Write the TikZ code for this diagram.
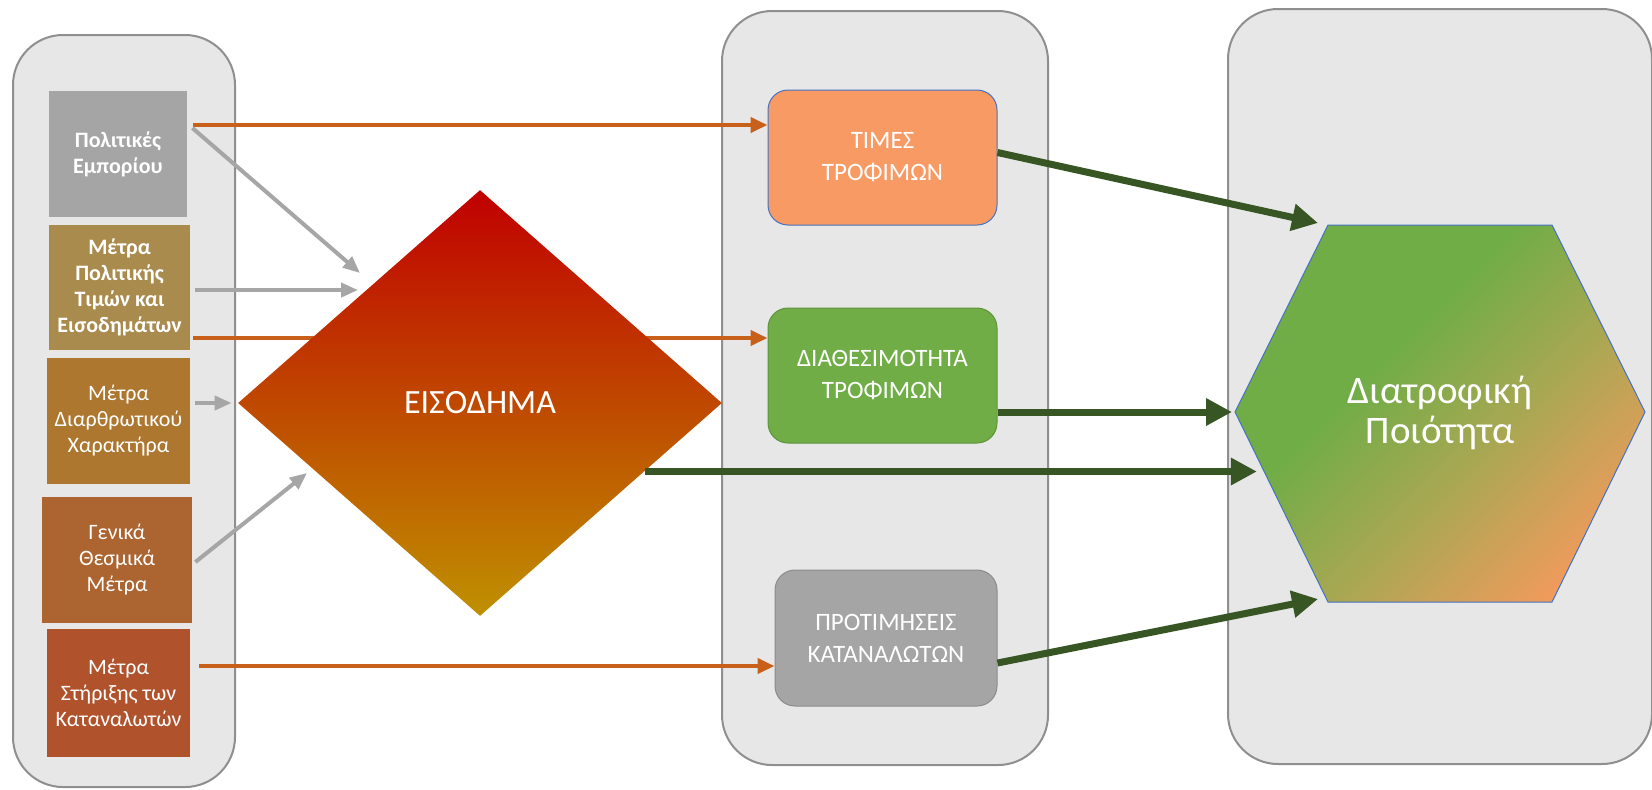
\documentclass[tikz,border=0pt]{standalone}
\usepackage{fontspec}
\setmainfont{Carlito}
\usetikzlibrary{shapes.geometric,arrows.meta,calc}
\definecolor{panelfill}{HTML}{E7E7E7}
\definecolor{paneldraw}{HTML}{8F8F8F}
\definecolor{cgray}{HTML}{A5A5A5}
\definecolor{ctan}{HTML}{AA8B4E}
\definecolor{cbrownA}{HTML}{AD772F}
\definecolor{cbrownB}{HTML}{AC6430}
\definecolor{cbrownC}{HTML}{B0532D}
\definecolor{corange}{HTML}{C8601A}
\definecolor{cgreenD}{HTML}{375623}
\definecolor{csalmon}{HTML}{F89A63}
\definecolor{cgreen}{HTML}{70AD47}
\definecolor{cblue}{HTML}{4472C4}
\definecolor{carrowgray}{HTML}{A6A6A6}
\definecolor{dtop}{HTML}{C00000}
\definecolor{dmid}{HTML}{C05800}
\definecolor{dbot}{HTML}{BF9000}
\definecolor{hmid}{HTML}{ABA753}
\definecolor{hbot}{HTML}{EE9B5C}
\pgfdeclareverticalshading{hexshade}{100bp}{color(0bp)=(hbot); color(24bp)=(hbot); color(42bp)=(hmid); color(60bp)=(cgreen); color(100bp)=(cgreen)}
\begin{document}
\begin{tikzpicture}[x=0.5pt,y=-0.5pt,
  panel/.style={fill=panelfill,draw=paneldraw,line width=1pt,rounded corners=25pt},
  lbox/.style={rectangle,inner sep=0pt,text=white,align=center,
    font=\fontsize{11}{13}\selectfont},
  mbox/.style={rectangle,rounded corners=10pt,inner sep=0pt,text=white,align=center,
    minimum width=114.5pt,minimum height=67.5pt,font=\fontsize{12.5}{16}\selectfont},
  oarr/.style={draw=corange,line width=2pt,-{Triangle[length=8.5pt,width=7.5pt]}},
  garr/.style={draw=carrowgray,line width=2pt,-{Triangle[length=8.5pt,width=7pt]}},
  darr/.style={draw=cgreenD,line width=3.5pt,-{Triangle[length=13pt,width=13pt]}}]
\useasboundingbox (0,0) rectangle (1652,789);
% panels
\draw[panel] (13,35) rectangle (235,787);
\draw[panel] (722,11) rectangle (1048,765);
\draw[panel] (1228,9) rectangle (1652,764);
% middle boxes
\node[mbox,fill=csalmon,draw=cblue,line width=0.5pt] (times) at (882.5,157.5) {ΤΙΜΕΣ\\ΤΡΟΦΙΜΩΝ};
\node[mbox,fill=cgreen,draw=cgreen!85!black,line width=0.5pt] (diath) at (882.5,375.5) {ΔΙΑΘΕΣΙΜΟΤΗΤΑ\\ΤΡΟΦΙΜΩΝ};
\node[mbox,fill=cgray,draw=cgray!85!black,line width=0.5pt,minimum width=111pt,minimum height=68pt] (prot) at (886,638) {ΠΡΟΤΙΜΗΣΕΙΣ\\ΚΑΤΑΝΑΛΩΤΩΝ};
% left boxes
\node[lbox,fill=cgray,minimum width=69pt,minimum height=63pt,font=\fontsize{11}{13}\selectfont\bfseries] (b1) at (118,154) {Πολιτικές\\Εμπορίου};
\node[lbox,fill=ctan,minimum width=70.5pt,minimum height=62.5pt,font=\fontsize{11}{13}\selectfont\bfseries] (b2) at (119.5,287.5) {Μέτρα\\Πολιτικής\\Τιμών και\\Εισοδημάτων};
\node[lbox,fill=cbrownA,minimum width=71.5pt,minimum height=63pt] (b3) at (118.5,421) {Μέτρα\\Διαρθρωτικού\\Χαρακτήρα};
\node[lbox,fill=cbrownB,minimum width=75pt,minimum height=63pt] (b4) at (117,560) {Γενικά\\Θεσμικά\\Μέτρα};
\node[lbox,fill=cbrownC,minimum width=71.5pt,minimum height=64pt] (b5) at (118.5,693) {Μέτρα\\Στήριξης των\\Καταναλωτών};
% orange arrow behind the diamond
\coordinate (o2s) at ($(b2.east)+(3,50.5)$);
\draw[oarr] (o2s) -- (o2s -| diath.west);
% diamond
\node[diamond,minimum width=242pt,minimum height=213pt,inner sep=0pt,
  top color=dtop,middle color=dmid,bottom color=dbot,text=white,
  font=\fontsize{17}{20}\selectfont] (inc) at (480,403) {ΕΙΣΟΔΗΜΑ};
% hexagon
\coordinate (h1) at (1328,225);
\coordinate (h2) at (1552,225);
\coordinate (h3) at (1645,412);
\coordinate (h4) at (1552,602);
\coordinate (h5) at (1328,602);
\coordinate (h6) at (1235,412);
\shade[shading=hexshade,shading angle=45]
  (h1) -- (h2) -- (h3) -- (h4) -- (h5) -- (h6) -- cycle;
\draw[draw=cblue,line width=0.5pt] (h1) -- (h2) -- (h3) -- (h4) -- (h5) -- (h6) -- cycle;
\node[text=white,align=center,font=\fontsize{19.5}{20}\selectfont] (hex) at (1440,413) {Διατροφική\\Ποιότητα};
% orange arrows
\coordinate (o1s) at ($(b1.east)+(6,-29)$);
\draw[oarr] (o1s) -- (o1s -| times.west);
\coordinate (o3s) at ($(b5.east)+(9,-27)$);
\draw[oarr] (o3s) -- (o3s -| prot.west);
% gray arrows
\draw[garr] ($(b1.east)+(5,-26)$) -- ($(inc.center)+(-120,-130)$);
\draw[garr] ($(b2.east)+(5,2.5)$) -- ($(inc.center)+(-122,-113)$);
\draw[garr] ($(b3.east)+(5,-18)$) -- ($(inc.west)+(-6,0)$);
\draw[garr] ($(b4.east)+(3,2)$) -- ($(inc.center)+(-173,70)$);
% dark green arrows
\coordinate (t1) at ($(h1)+(-10,-2)$);
\draw[darr] ($(times.east)+(0,-5)$) -- (t1);
\coordinate (d2s) at ($(diath.east)+(0,36.5)$);
\draw[darr,shorten >=1.5pt] (d2s) -- (d2s -| h6);
\coordinate (d3s) at ($(inc.east)!0.321!(inc.south)$);
\coordinate (t3) at ($(h6)!0.31!(h5)$);
\draw[darr,shorten >=3.5pt] (d3s) -- (d3s -| t3);
\coordinate (t4) at ($(h5)+(-10,-3)$);
\draw[darr] ($(prot.east)+(0,25)$) -- (t4);
\end{tikzpicture}
\end{document}
